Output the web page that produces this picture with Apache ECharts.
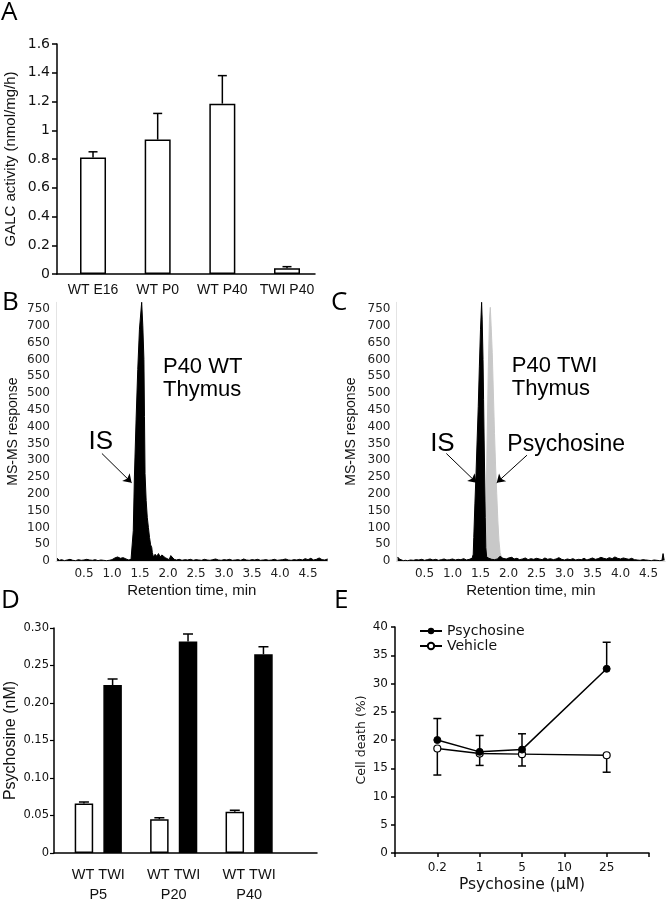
<!DOCTYPE html>
<html><head><meta charset="utf-8">
<script src="https://cdn.jsdelivr.net/npm/echarts@6/dist/echarts.min.js"></script>
<style>html,body{margin:0;padding:0;background:#fff}#c{width:667px;height:899px}</style>
</head><body><div id="c"></div>
<script>
// ---------- Panel A : GALC activity ----------
const galcCategories = ['WT E16', 'WT P0', 'WT P40', 'TWI P40'];
const galcMean  = [0.81, 0.935, 1.185, 0.04];
const galcUpper = [0.85, 1.117, 1.38, 0.051];

// ---------- Panel B : P40 WT thymus chromatogram (IS) ----------
const wtTime = [0.02,0.06,0.1,0.15,0.2,0.25,0.3,0.35,0.4,0.45,0.5,0.55,0.6,0.65,0.7,0.75,0.8,0.85,0.9,0.95,1.0,1.05,1.1,1.15,1.2,1.25,1.3,1.34,1.37,1.38,1.40,1.43,1.46,1.49,1.53,1.55,1.57,1.58,1.59,1.61,1.63,1.65,1.67,1.69,1.71,1.72,1.74,1.77,1.8,1.83,1.86,1.89,1.92,1.95,1.98,2.02,2.05,2.08,2.11,2.15,2.2,2.25,2.3,2.35,2.4,2.45,2.5,2.55,2.6,2.65,2.7,2.75,2.8,2.85,2.9,2.95,3.0,3.05,3.1,3.15,3.2,3.25,3.3,3.35,3.4,3.45,3.5,3.55,3.6,3.65,3.7,3.75,3.8,3.85,3.9,3.95,4.0,4.05,4.1,4.15,4.2,4.25,4.3,4.35,4.4,4.45,4.5,4.55,4.6,4.65,4.7,4.75,4.8,4.85];
const wtResp = [8,2,4,1,3,5,2,1,4,2,3,5,3,2,4,1,3,2,1,2,4,9,12,8,10,6,3,5,10,90,250,420,570,690,770,700,600,430,260,180,130,100,70,48,40,25,12,20,14,22,12,18,20,10,6,4,16,14,5,3,5,2,4,3,5,2,4,3,2,5,3,2,4,6,3,2,4,3,5,2,3,4,2,6,3,2,4,3,5,2,3,4,2,3,5,2,3,4,6,3,2,4,3,5,3,7,4,8,3,5,9,4,3,6];

// ---------- Panel C : P40 TWI thymus chromatogram ----------
const twiIsTime = [0.02,0.05,0.08,0.12,0.16,0.2,0.25,0.3,0.35,0.4,0.45,0.5,0.55,0.6,0.65,0.7,0.75,0.8,0.85,0.9,0.95,1.0,1.05,1.1,1.15,1.2,1.25,1.3,1.35,1.37,1.38,1.40,1.42,1.44,1.46,1.48,1.50,1.52,1.53,1.545,1.555,1.565,1.575,1.585,1.595,1.61,1.65,1.7,1.75,1.8,1.85,1.88,1.9,1.93,1.96,2.0,2.03,2.06,2.1,2.15,2.2,2.25,2.3,2.35,2.4,2.45,2.5,2.55,2.6,2.65,2.7,2.75,2.8,2.85,2.9,2.95,3.0,3.05,3.1,3.15,3.2,3.25,3.3,3.35,3.4,3.45,3.5,3.55,3.6,3.65,3.7,3.75,3.8,3.85,3.9,3.95,4.0,4.05,4.1,4.15,4.2,4.25,4.3,4.35,4.4,4.45,4.5,4.55,4.6,4.65,4.7,4.74,4.76,4.78];
const twiIsResp = [12,6,2,1,2,1,3,2,4,3,5,2,4,6,3,5,2,4,6,3,4,6,3,5,4,7,3,5,8,20,70,170,260,360,460,580,690,770,720,600,480,360,250,130,40,12,8,5,4,6,14,10,8,12,6,9,5,11,6,8,4,6,9,4,7,5,8,6,4,9,5,7,4,6,10,5,3,6,4,7,3,5,4,8,3,6,9,5,7,11,8,6,10,7,12,8,6,9,7,5,8,4,3,2,4,3,2,1,3,2,1,2,22,2];
const twiPsyTime = [1.55,1.58,1.60,1.62,1.64,1.66,1.675,1.69,1.71,1.73,1.75,1.77,1.79,1.81,1.83,1.85,1.88,1.9];
const twiPsyResp = [0,50,170,380,580,720,755,700,620,500,380,280,200,120,60,25,8,0];
const retentionTicks = [0.5,1.0,1.5,2.0,2.5,3.0,3.5,4.0,4.5];

// ---------- Panel D : psychosine levels ----------
const psyAges = ['P5', 'P20', 'P40'];
const psyWT = [0.066, 0.045, 0.055];
const psyWTUpper = [0.068, 0.047, 0.057];
const psyTWI = [0.224, 0.282, 0.265];
const psyTWIUpper = [0.232, 0.292, 0.275];

// ---------- Panel E : cell death ----------
const doseLabels = ['', '0.2', '1', '5', '10', '25', ''];
const deathPsy = [null, 20.0, 17.9, 18.3, null, 32.6, null];
const deathPsyUpper = [null, 23.8, 20.8, 21.1, null, 37.3, null];
const deathVeh = [null, 18.5, 17.6, 17.5, null, 17.3, null];
const deathVehLower = [null, 13.8, 15.5, 15.4, null, 14.3, null];

const TICKF = 'DejaVu Sans';
const NAMEF = 'Liberation Sans';

function errBar(capW, lw) {
  return function (params, api) {
    const x = api.value(0), a = api.value(1), b = api.value(2);
    const p1 = api.coord([x, a]), p2 = api.coord([x, b]);
    return {type: 'group', children: [
      {type: 'line', shape: {x1: p1[0], y1: p1[1], x2: p2[0], y2: p2[1]}, style: {stroke: '#000', lineWidth: lw}},
      {type: 'line', shape: {x1: p2[0] - capW / 2, y1: p2[1], x2: p2[0] + capW / 2, y2: p2[1]}, style: {stroke: '#000', lineWidth: lw}}
    ]};
  };
}
function pairs(xs, ys) { return xs.map((x, i) => [x, ys[i]]); }
function note(xi, yi, x, y, text, fs, align, lh) {
  return {type: 'custom', xAxisIndex: xi, yAxisIndex: yi, silent: true, z: 10,
    renderItem: function (params, api) {
      const p = api.coord([api.value(0), api.value(1)]);
      return {type: 'text', x: p[0], y: p[1], style: {text: text, fontSize: fs, fontFamily: NAMEF, fill: '#000',
        align: align, verticalAlign: 'middle', lineHeight: lh || fs}};
    },
    data: [[x, y]]};
}
function arrows(list) {
  return {silent: true, symbol: ['none', 'arrow'], symbolSize: 8, animation: false,
    lineStyle: {color: '#000', width: 1, type: 'solid'}, label: {show: false},
    data: list.map(s => [{coord: s[0]}, {coord: s[1]}])};
}
const chromY = {type: 'value', min: 0, max: 770, interval: 50,
  axisLine: {show: true, lineStyle: {color: '#e4e4e4', width: 1}}, axisTick: {show: false}, splitLine: {show: false},
  axisLabel: {fontSize: 12, fontFamily: TICKF, color: '#222', margin: 6, showMaxLabel: false},
  name: 'MS-MS response', nameLocation: 'middle', nameTextStyle: {fontSize: 14, fontFamily: NAMEF, color: '#111'}};
function chromX(gi, max) {
  return {type: 'value', gridIndex: gi, min: 0, max: max,
    axisLine: {show: true, lineStyle: {color: '#dddddd', width: 1}}, axisTick: {show: false}, splitLine: {show: false},
    axisLabel: {customValues: retentionTicks, formatter: v => v.toFixed(1), fontSize: 12, fontFamily: TICKF, color: '#222', margin: 7},
    name: 'Retention time, min', nameLocation: 'middle', nameGap: 22, nameTextStyle: {fontSize: 15, fontFamily: NAMEF, color: '#111'}};
}
const blackAxis = {show: true, lineStyle: {color: '#000', width: 1.5}};

const option = {
  animation: false,
  backgroundColor: '#fff',
  graphic: [
    {type: 'text', left: 1, top: 0, style: {text: 'A', fontSize: 26, fontFamily: 'Open Sans', fill: '#000'}},
    {type: 'text', left: 2, top: 290, style: {text: 'B', fontSize: 26, fontFamily: 'Open Sans', fill: '#000'}},
    {type: 'text', left: 331, top: 290, style: {text: 'C', fontSize: 26, fontFamily: 'Open Sans', fill: '#000'}},
    {type: 'text', left: 1, top: 588, style: {text: 'D', fontSize: 26, fontFamily: 'Open Sans', fill: '#000'}},
    {type: 'text', left: 334, top: 588, style: {text: 'E', fontSize: 26, fontFamily: 'Open Sans', fill: '#000'}}
  ],
  legend: {data: ['Psychosine', 'Vehicle'], left: 419, top: 624, orient: 'vertical', itemWidth: 22, itemHeight: 8,
    itemGap: 1, padding: 0, textStyle: {fontSize: 14, fontFamily: TICKF, color: '#111'}},
  grid: [
    {left: 57, top: 44, width: 258, height: 230, outerBoundsMode: 'none'},
    {left: 56, top: 302.3, width: 271.6, height: 258.7, outerBoundsMode: 'none'},
    {left: 396.5, top: 302.3, width: 268.8, height: 258.7, outerBoundsMode: 'none'},
    {left: 54, top: 628, width: 263, height: 225, outerBoundsMode: 'none'},
    {left: 395, top: 627, width: 254, height: 226, outerBoundsMode: 'none'}
  ],
  xAxis: [
    {type: 'value', gridIndex: 0, min: 0.443, max: 4.433, axisLine: blackAxis, axisTick: {show: false}, splitLine: {show: false},
      axisLabel: {customValues: [1, 2, 3, 4], formatter: v => galcCategories[Math.round(v) - 1], fontSize: 14, fontFamily: NAMEF, color: '#111', margin: 9}},
    chromX(1, 4.85),
    chromX(2, 4.8),
    {type: 'value', gridIndex: 3, min: 0.413, max: 3.90, axisLine: blackAxis, axisTick: {show: false}, splitLine: {show: false},
      axisLabel: {customValues: [1, 2, 3], formatter: v => 'WT TWI\n' + psyAges[Math.round(v) - 1], fontSize: 14.5, lineHeight: 20, fontFamily: NAMEF, color: '#111', margin: 12}},
    {type: 'category', gridIndex: 4, data: doseLabels, boundaryGap: false, axisLine: blackAxis,
      axisTick: {show: true, interval: 0, length: 4, lineStyle: {color: '#000', width: 1.5}},
      axisLabel: {interval: 0, fontSize: 12, fontFamily: TICKF, color: '#111', margin: 9},
      name: 'Psychosine (\u03bcM)', nameLocation: 'middle', nameGap: 24, nameTextStyle: {fontSize: 15.5, fontFamily: TICKF, color: '#111'}}
  ],
  yAxis: [
    {type: 'value', gridIndex: 0, min: 0, max: 1.6, interval: 0.2, axisLine: blackAxis,
      axisTick: {show: true, length: 5, lineStyle: {color: '#000', width: 1.5}}, splitLine: {show: false},
      axisLabel: {fontSize: 14, fontFamily: TICKF, color: '#111', margin: 7},
      name: 'GALC activity (nmol/mg/h)', nameLocation: 'middle', nameGap: 39, nameTextStyle: {fontSize: 15, fontFamily: NAMEF, color: '#111'}},
    Object.assign({}, chromY, {gridIndex: 1, nameGap: 36}),
    Object.assign({}, chromY, {gridIndex: 2, nameGap: 38}),
    {type: 'value', gridIndex: 3, min: 0, max: 0.3, interval: 0.05, axisLine: blackAxis,
      axisTick: {show: true, length: 4, lineStyle: {color: '#000', width: 1.2}}, splitLine: {show: false},
      axisLabel: {formatter: v => (v === 0 ? '0' : v.toFixed(2)), fontSize: 11.5, fontFamily: TICKF, color: '#111', margin: 5},
      name: 'Psychosine (nM)', nameLocation: 'middle', nameGap: 35, nameTextStyle: {fontSize: 16, fontFamily: NAMEF, color: '#111'}},
    {type: 'value', gridIndex: 4, min: 0, max: 40, interval: 5, axisLine: blackAxis,
      axisTick: {show: true, length: 4, lineStyle: {color: '#000', width: 1.5}}, splitLine: {show: false},
      axisLabel: {fontSize: 12, fontFamily: TICKF, color: '#111', margin: 7},
      name: 'Cell death (%)', nameLocation: 'middle', nameGap: 27, nameTextStyle: {fontSize: 12.5, fontFamily: TICKF, color: '#111'}}
  ],
  series: [
    // A
    {type: 'bar', xAxisIndex: 0, yAxisIndex: 0, barWidth: 26, silent: true,
      itemStyle: {color: '#fff', borderColor: '#000', borderWidth: 1.5},
      data: galcMean.map((v, i) => [i + 1, v])},
    {type: 'custom', xAxisIndex: 0, yAxisIndex: 0, silent: true, z: 3, renderItem: errBar(9, 1.5),
      data: galcMean.map((v, i) => [i + 1, v, galcUpper[i]])},
    // B
    {type: 'line', xAxisIndex: 1, yAxisIndex: 1, symbol: 'none', silent: true,
      lineStyle: {color: '#000', width: 1}, areaStyle: {color: '#000', opacity: 1},
      data: pairs(wtTime, wtResp),
      markLine: arrows([[[0.82, 320], [1.35, 233]]])},
    note(1, 1, 0.80, 354, 'IS', 26, 'center'),
    note(1, 1, 1.91, 542, 'P40 WT\nThymus', 22, 'left', 23),
    // C
    {type: 'line', xAxisIndex: 2, yAxisIndex: 2, symbol: 'none', silent: true, z: 2,
      lineStyle: {color: '#c8c8c8', width: 1}, areaStyle: {color: '#c8c8c8', opacity: 1},
      data: pairs(twiPsyTime, twiPsyResp)},
    {type: 'line', xAxisIndex: 2, yAxisIndex: 2, symbol: 'none', silent: true, z: 3,
      lineStyle: {color: '#000', width: 1}, areaStyle: {color: '#000', opacity: 1},
      data: pairs(twiIsTime, twiIsResp),
      markLine: arrows([[[0.89, 320], [1.43, 233]], [[2.33, 315], [1.79, 233]]])},
    note(2, 2, 0.82, 348, 'IS', 26, 'center'),
    note(2, 2, 3.03, 345, 'Psychosine', 23, 'center'),
    note(2, 2, 2.06, 545, 'P40 TWI\nThymus', 22, 'left', 23),
    // D
    {type: 'bar', xAxisIndex: 3, yAxisIndex: 3, barWidth: 18.5, silent: true,
      itemStyle: {borderColor: '#000', borderWidth: 1.5},
      data: [].concat(
        psyWT.map((v, i) => ({value: [i + 1 - 0.19, v], itemStyle: {color: '#fff'}})),
        psyTWI.map((v, i) => ({value: [i + 1 + 0.19, v], itemStyle: {color: '#000'}})))},
    {type: 'custom', xAxisIndex: 3, yAxisIndex: 3, silent: true, z: 3, renderItem: errBar(10, 1.5),
      data: [].concat(
        psyWT.map((v, i) => [i + 1 - 0.19, v, psyWTUpper[i]]),
        psyTWI.map((v, i) => [i + 1 + 0.19, v, psyTWIUpper[i]]))},
    // E
    {type: 'custom', xAxisIndex: 4, yAxisIndex: 4, silent: true, z: 1, renderItem: errBar(8, 1.5),
      data: [].concat(
        deathPsy.map((v, i) => [i, v, deathPsyUpper[i]]).filter(d => d[1] != null),
        deathVeh.map((v, i) => [i, v, deathVehLower[i]]).filter(d => d[1] != null))},
    {name: 'Vehicle', type: 'line', xAxisIndex: 4, yAxisIndex: 4, connectNulls: true, symbol: 'circle', symbolSize: 7,
      lineStyle: {color: '#000', width: 1.5}, itemStyle: {color: '#fff', borderColor: '#000', borderWidth: 1.2}, z: 3,
      data: deathVeh},
    {name: 'Psychosine', type: 'line', xAxisIndex: 4, yAxisIndex: 4, connectNulls: true, symbol: 'circle', symbolSize: 7,
      lineStyle: {color: '#000', width: 1.5}, itemStyle: {color: '#000', borderColor: '#000'}, z: 4,
      data: deathPsy}
  ]
};
const chart = echarts.init(document.getElementById('c'));
chart.setOption(option);
</script>
</body></html>
